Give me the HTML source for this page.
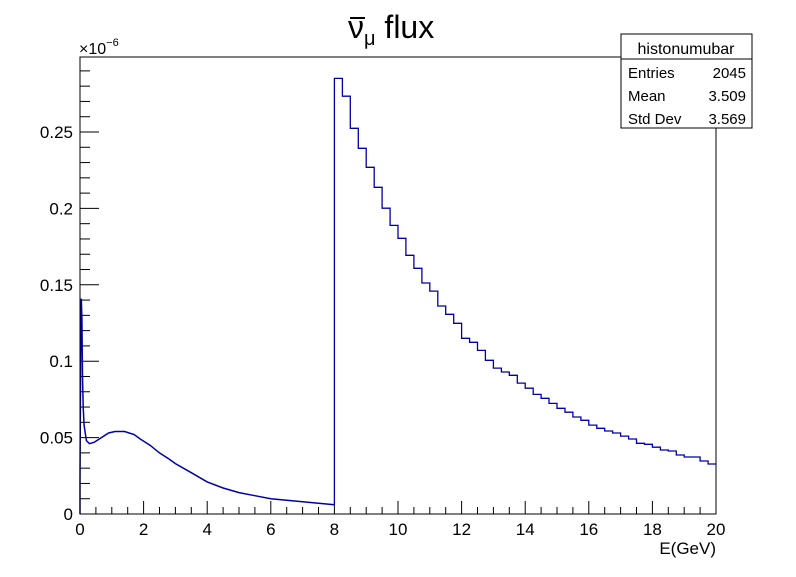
<!DOCTYPE html>
<html><head><meta charset="utf-8"><style>
body{margin:0;background:#fff;font-family:"Liberation Sans",sans-serif}
</style></head><body>
<svg id="chart" width="796" height="572" xmlns="http://www.w3.org/2000/svg" font-family="Liberation Sans, sans-serif">
<rect width="796" height="572" fill="#fff"/>
<g id="ticks"></g>
<path id="lowline" fill="none" stroke="#0000aa" stroke-width="1.5"/>
<path id="highline" fill="none" stroke="#0000aa" stroke-width="1.3"/>
<rect x="80" y="57" width="636" height="457" fill="none" stroke="#000" stroke-width="1"/>
<g>
<line x1="350" y1="18" x2="365" y2="18" stroke="#000" stroke-width="2"/>
<text x="348" y="38" font-size="32">ν<tspan font-size="20" dy="7">μ</tspan><tspan dy="-7"> flux</tspan></text>
</g>
<text x="79" y="54" font-size="16">×10<tspan font-size="11" dy="-8">−6</tspan></text>
<text x="716" y="554" font-size="17" text-anchor="end">E(GeV)</text>
<g>
<rect x="621" y="34" width="131" height="94" fill="#fff" stroke="#000"/>
<line x1="621" y1="59" x2="752" y2="59" stroke="#000"/>
<text x="686" y="54" font-size="16" text-anchor="middle">histonumubar</text>
<text x="628" y="78" font-size="15">Entries</text><text x="746" y="78" font-size="15" text-anchor="end">2045</text>
<text x="628" y="101" font-size="15">Mean</text><text x="746" y="101" font-size="15" text-anchor="end">3.509</text>
<text x="628" y="124" font-size="15">Std Dev</text><text x="746" y="124" font-size="15" text-anchor="end">3.569</text>
</g>
</svg>
<script>
const lowE=[0,0.02,0.04,0.06,0.08,0.1,0.13,0.2,0.3,0.45,0.6,0.9,1.1,1.4,1.7,1.9,2.2,2.5,2.8,3.0,3.5,4.0,4.5,5.0,5.5,6.0,6.5,7.0,7.5,8.0];
const lowFlux=[0.022,0.10,0.141,0.128,0.09,0.07,0.058,0.048,0.046,0.047,0.049,0.053,0.054,0.054,0.052,0.049,0.045,0.040,0.036,0.033,0.027,0.021,0.017,0.014,0.012,0.010,0.009,0.008,0.007,0.006];
const highStart=8, highBinWidth=0.25;
const highFlux=[0.2851,0.2734,0.2524,0.2393,0.2269,0.2138,0.2001,0.1889,0.1804,0.1693,0.1608,0.1512,0.1459,0.1361,0.1307,0.1248,0.1150,0.1124,0.1071,0.1006,0.0955,0.0929,0.0908,0.0857,0.0823,0.0783,0.0757,0.0724,0.0692,0.0666,0.0635,0.0613,0.0582,0.0561,0.0543,0.0530,0.0510,0.0491,0.0463,0.0456,0.0437,0.0419,0.0412,0.0386,0.0373,0.0373,0.0347,0.0327];
const xTickLabels=["0","2","4","6","8","10","12","14","16","18","20"];
const yTickLabels=["0","0.05","0.1","0.15","0.2","0.25"];
const X=v=>80+v*31.8;
const Y=v=>514-v*1528;
const ns="http://www.w3.org/2000/svg";
let d="M"+X(lowE[0])+" "+Y(0);
for(let i=0;i<lowE.length;i++)d+=" L"+X(lowE[i]).toFixed(1)+" "+Y(lowFlux[i]).toFixed(1);
document.getElementById('lowline').setAttribute('d',d);
let h="M"+X(highStart)+" "+Y(lowFlux[lowFlux.length-1]).toFixed(1);
highFlux.forEach((v,i)=>{const x0=X(highStart+i*highBinWidth),x1=X(highStart+(i+1)*highBinWidth);h+=" L"+x0.toFixed(1)+" "+Y(v).toFixed(1)+" L"+x1.toFixed(1)+" "+Y(v).toFixed(1);});
document.getElementById('highline').setAttribute('d',h);
const g=document.getElementById('ticks');
function line(x1,y1,x2,y2){const l=document.createElementNS(ns,'line');l.setAttribute('x1',x1);l.setAttribute('y1',y1);l.setAttribute('x2',x2);l.setAttribute('y2',y2);l.setAttribute('stroke','#000');


g.appendChild(l);}
function txt(x,y,s,anchor,name){const t=document.createElementNS(ns,'text');t.setAttribute('x',x);t.setAttribute('y',y);t.setAttribute('font-size','17');t.setAttribute('text-anchor',anchor);t.textContent=s;


g.appendChild(t);}
for(let v=0;v<=20.001;v+=0.5){const major=Math.abs(v/2-Math.round(v/2))<1e-6;line(X(v),514,X(v),514-(major?13:7));}
xTickLabels.forEach((s,i)=>txt(X(i*2),535,s,'middle','x-tick-label'));
for(let k=0;k<=29;k++){const v=k*0.01;const major=k%5===0;line(80,Y(v),80+(major?19:10),Y(v));}
yTickLabels.forEach((s,i)=>txt(73,Y(i*0.05)+6,s,'end','y-tick-label'));
</script>
</body></html>
